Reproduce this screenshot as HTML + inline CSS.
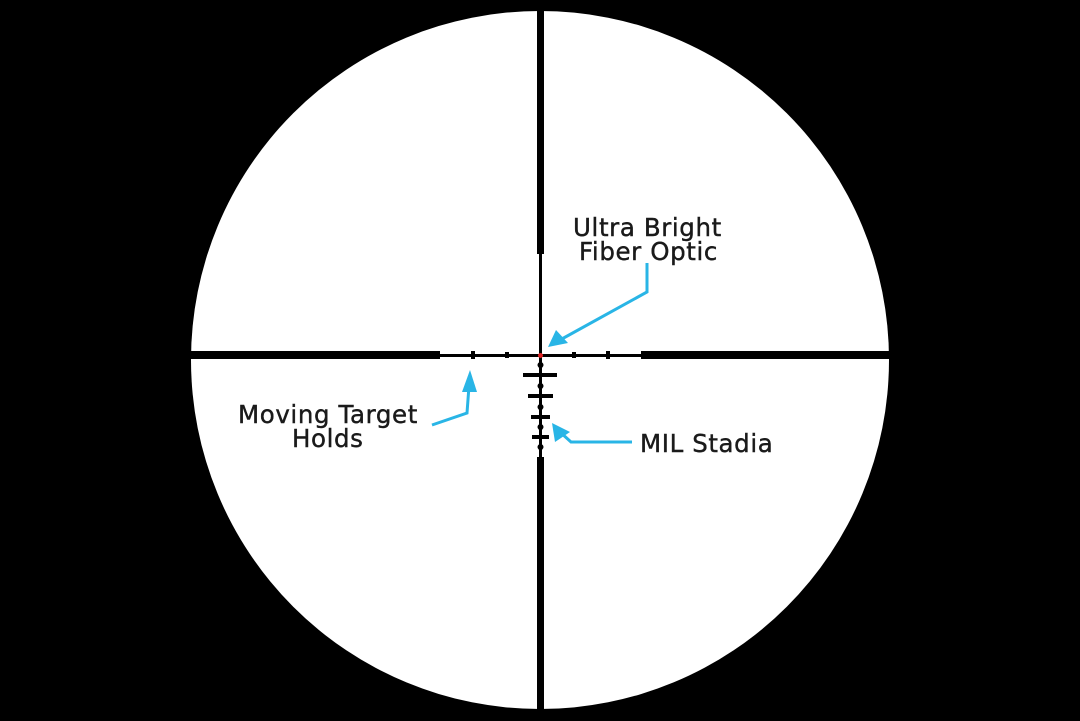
<!DOCTYPE html>
<html><head><style>
html,body{margin:0;padding:0;background:#000;}
svg{display:block}
text{font-family:"DejaVu Sans","Liberation Sans",sans-serif;fill:#1a1a1a;font-size:24.5px;letter-spacing:0.6px;stroke:#1a1a1a;stroke-width:0.4}
</style></head><body>
<svg width="1080" height="721" viewBox="0 0 1080 721">
<rect width="1080" height="721" fill="#000"/>
<circle cx="540" cy="360" r="349" fill="#fff"/>
<g fill="#000">
<rect x="190" y="351" width="250" height="8"/>
<rect x="641" y="351" width="250" height="8"/>
<rect x="537" y="0" width="7" height="254"/>
<rect x="537" y="457" width="7" height="264"/>
<rect x="440" y="354" width="201" height="3"/>
<rect x="539" y="254" width="3" height="203"/>
<rect x="471" y="351" width="4" height="8"/>
<rect x="505" y="352" width="4" height="6"/>
<rect x="572" y="352" width="4" height="6"/>
<rect x="606" y="351" width="4" height="8"/>
<rect x="523" y="373" width="34" height="4"/>
<rect x="528" y="394" width="25" height="4"/>
<rect x="531" y="415" width="19" height="4"/>
<rect x="532" y="435" width="17" height="4"/>
<circle cx="540.5" cy="365" r="3"/>
<circle cx="540.5" cy="386" r="3"/>
<circle cx="540.5" cy="407" r="3"/>
<circle cx="540.5" cy="427" r="3"/>
<circle cx="540.5" cy="447" r="3"/>
</g>
<circle cx="540.5" cy="355.5" r="2.5" fill="#d22"/>
<g stroke="#29b5e6" stroke-width="3" fill="none">
<polyline points="647,263 647,292 560,340"/>
<polyline points="432,425 467,413 469,386"/>
<polyline points="632,442 571,442 560,432"/>
</g>
<g fill="#29b5e6">
<polygon points="548,347 556,330 568,343"/>
<polygon points="470,370 462,392 477,392"/>
<polygon points="552,423 555,442 570,432"/>
</g>
<text x="573" y="236">Ultra Bright</text>
<text x="579" y="260">Fiber Optic</text>
<text x="238" y="423">Moving Target</text>
<text x="292" y="447">Holds</text>
<text x="640" y="452">MIL Stadia</text>
</svg>
</body></html>
